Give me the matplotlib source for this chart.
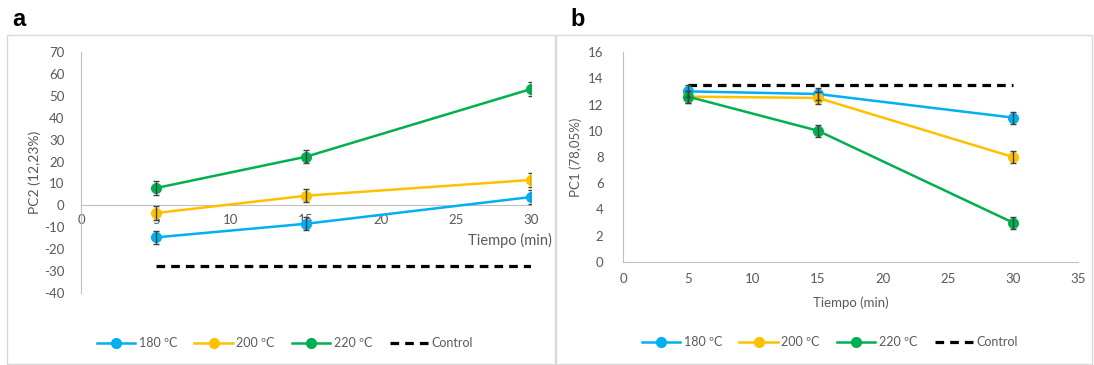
import numpy as np
import matplotlib
matplotlib.use("Agg")
import matplotlib.pyplot as plt
from matplotlib.patches import Rectangle

plt.rcParams['font.family'] = ['Lato', 'DejaVu Sans']
plt.rcParams['axes.unicode_minus'] = False

tiempo = [5, 15, 30]
series = ['180 ºC', '200 ºC', '220 ºC']
colores = ['#00B0F0', '#FFC000', '#00B050']

# panel a: PC2
pc2 = [[-14.6, -8.4, 3.8],
       [-3.5, 4.4, 11.6],
       [7.9, 22.2, 53.1]]
pc2_err = [[3, 3, 3],
           [3, 3, 3],
           [3, 3, 3]]
pc2_control = -27.8

# panel b: PC1
pc1 = [[13.0, 12.8, 11.0],
       [12.6, 12.5, 8.0],
       [12.6, 10.0, 3.0]]
pc1_err = [[0.45, 0.45, 0.45],
           [0.45, 0.45, 0.45],
           [0.45, 0.45, 0.45]]
pc1_control = 13.5

gris = '#595959'
spine = '#bfbfbf'

fig = plt.figure(figsize=(10.94, 3.65), dpi=100)

# panel frames
fig.patches.append(Rectangle((7 / 1094, 0.003), 548 / 1094, (365 - 36) / 365, transform=fig.transFigure,
                             fill=False, edgecolor='#d9d9d9', lw=1))
fig.patches.append(Rectangle((556 / 1094, 0.003), 536 / 1094, (365 - 36) / 365, transform=fig.transFigure,
                             fill=False, edgecolor='#d9d9d9', lw=1))
fig.text(12 / 1094, 1 - 20 / 365, 'a', fontsize=17, fontweight='bold', family='Liberation Sans', va='center')
fig.text(570 / 1094, 1 - 20 / 365, 'b', fontsize=17, fontweight='bold', family='Liberation Sans', va='center')


def dibujar(ax, datos, errs, control):
    handles = []
    for vals, e, c, lab in zip(datos, errs, colores, series):
        ax.errorbar(tiempo, vals, yerr=e, fmt='none', ecolor='#404040', elinewidth=1, capsize=2.5, capthick=1, zorder=4)
        h, = ax.plot(tiempo, vals, '-o', color=c, lw=1.8, ms=7, label=lab, zorder=3)
        handles.append(h)
    h, = ax.plot([tiempo[0], tiempo[-1]], [control, control], color='black', lw=2.3, ls=(0, (2.7, 1.9)), label='Control')
    handles.append(h)
    for s in ['top', 'right']:
        ax.spines[s].set_visible(False)
    ax.spines['left'].set_color(spine)
    ax.spines['bottom'].set_color(spine)
    ax.tick_params(length=0, labelsize=9.5, labelcolor=gris)
    return handles


# ---- panel a
ax1 = fig.add_axes([81 / 1094, (365 - 293) / 365, 450 / 1094, 241 / 365])
hs = dibujar(ax1, pc2, pc2_err, pc2_control)
ax1.set_xlim(0, 30)
ax1.set_ylim(-40, 70)
ax1.set_yticks(np.arange(-40, 71, 10))
ax1.set_xticks(np.arange(0, 31, 5))
ax1.spines['bottom'].set_position(('data', 0))
ax1.tick_params(axis='x', pad=6)
ax1.tick_params(axis='y', pad=12)
ax1.set_ylabel('PC2 (12,23%)', fontsize=10, color=gris, labelpad=2)
ax1.set_xlabel('Tiempo (min)', fontsize=10.5, color=gris, ha='right', va='center')
ax1.xaxis.set_label_coords(1.047, 0.22)
fig.legend(handles=hs, loc='center', bbox_to_anchor=(285 / 1094, 1 - 343 / 365), ncol=4, frameon=False,
           fontsize=9, handlelength=3.05, columnspacing=1.4, handletextpad=0.3, labelcolor=gris)

# ---- panel b
ax2 = fig.add_axes([623 / 1094, (365 - 262) / 365, 455 / 1094, 210 / 365])
hs = dibujar(ax2, pc1, pc1_err, pc1_control)
ax2.set_xlim(0, 35)
ax2.set_ylim(0, 16)
ax2.set_yticks(np.arange(0, 17, 2))
ax2.set_xticks(np.arange(0, 36, 5))
ax2.tick_params(axis='x', pad=8)
ax2.tick_params(axis='y', pad=14)
ax2.set_ylabel('PC1 (78,05%)', fontsize=9.5, color=gris, labelpad=4)
ax2.set_xlabel('Tiempo (min)', fontsize=9.5, color=gris, labelpad=8)
fig.legend(handles=hs, loc='center', bbox_to_anchor=(830 / 1094, 1 - 342 / 365), ncol=4, frameon=False,
           fontsize=9, handlelength=3.05, columnspacing=1.4, handletextpad=0.3, labelcolor=gris)

fig.savefig('out.png', dpi=100)
